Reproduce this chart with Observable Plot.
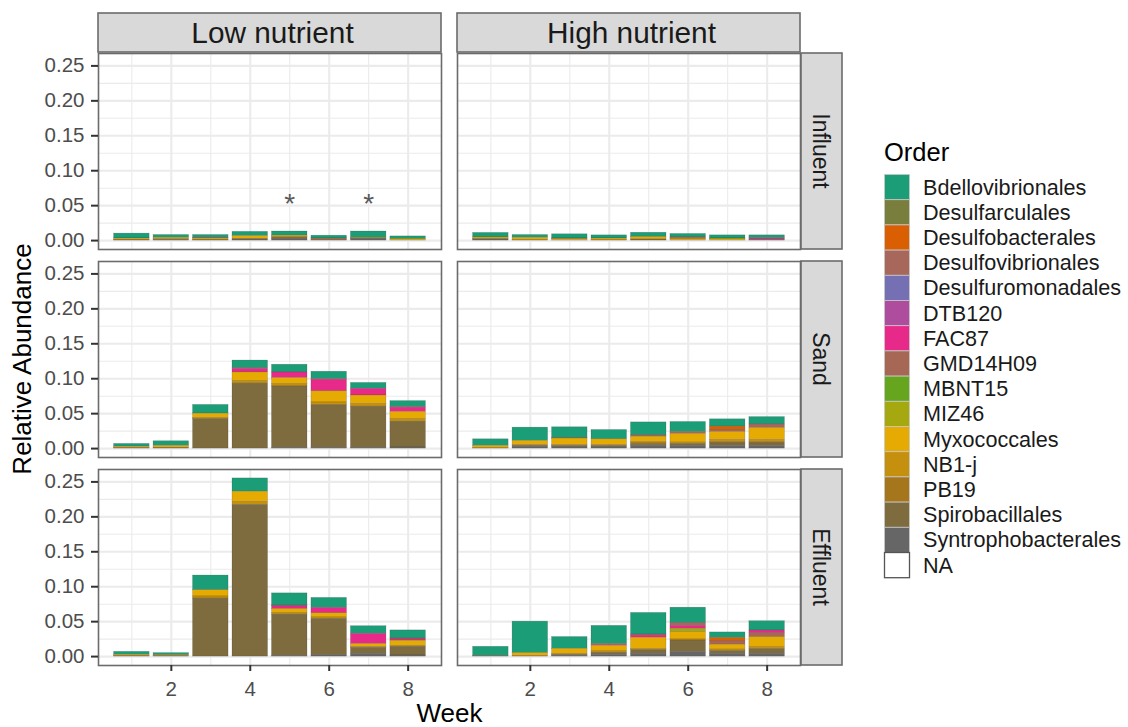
<!DOCTYPE html>
<html><head><meta charset="utf-8">
<script src="https://cdn.jsdelivr.net/npm/d3@7"></script>
<script src="https://cdn.jsdelivr.net/npm/@observablehq/plot@0.6"></script>
<style>
html,body{margin:0;padding:0;background:#fff;}
#wrap{position:relative;width:1128px;height:727px;overflow:hidden;font-family:"Liberation Sans",Arial,sans-serif;}
#wrap svg{position:absolute;}
</style></head><body><div id="wrap"></div>
<script>
// ---------- data ----------
const weeks = [1, 2, 3, 4, 5, 6, 7, 8];
const nutrients = ["Low nutrient", "High nutrient"];
const sites = ["Influent", "Sand", "Effluent"];
const orders = ["Bdellovibrionales","Desulfarculales","Desulfobacterales","Desulfovibrionales","Desulfuromonadales","DTB120","FAC87","GMD14H09","MBNT15","MIZ46","Myxococcales","NB1-j","PB19","Spirobacillales","Syntrophobacterales","NA"];
const orderColors = ["#1B9E77","#7A7E3C","#D95F02","#A7675A","#7570B3","#AE4C9E","#E7298A","#A66854","#66A61E","#A6A810","#E6AB02","#C6900F","#A6761D","#7E6C3E","#666666","#FFFFFF"];
const xTicks = [2, 4, 6, 8];
const xMinor = [1, 3, 5, 7];
const yTicks = [0, 0.05, 0.10, 0.15, 0.20, 0.25];
const yMinor = [0.025, 0.075, 0.125, 0.175, 0.225];
const asteriskWeeks = [5, 7];
const asteriskLevel = 0.052;

// relative abundance per order, weeks 1..8
const lowInfluent = {
  "Bdellovibrionales":   [0.007, 0.004, 0.004, 0.006, 0.006, 0.004, 0.009, 0.004],
  "Desulfobacterales":   [0, 0, 0, 0, 0, 0.001, 0, 0],
  "Desulfovibrionales":  [0, 0, 0.001, 0, 0, 0.001, 0, 0],
  "Myxococcales":        [0.002, 0.002, 0.002, 0.004, 0.002, 0, 0.001, 0.002],
  "NB1-j":               [0, 0.001, 0, 0.001, 0, 0, 0, 0],
  "PB19":                [0, 0, 0, 0, 0.002, 0, 0, 0],
  "Spirobacillales":     [0.001, 0.001, 0.001, 0, 0.001, 0.001, 0.001, 0],
  "Syntrophobacterales": [0, 0, 0, 0.0015, 0.002, 0, 0.002, 0]
};
const highInfluent = {
  "Bdellovibrionales":   [0.0065, 0.004, 0.006, 0.0045, 0.0062, 0.005, 0.0045, 0.004],
  "Desulfobacterales":   [0, 0, 0, 0, 0, 0.001, 0, 0],
  "Desulfovibrionales":  [0, 0, 0, 0, 0, 0.0015, 0, 0],
  "Desulfuromonadales":  [0, 0, 0.001, 0, 0, 0, 0, 0],
  "DTB120":              [0, 0, 0, 0, 0, 0, 0, 0.002],
  "GMD14H09":            [0, 0, 0, 0, 0, 0, 0, 0.0015],
  "MBNT15":              [0, 0, 0, 0, 0, 0, 0.001, 0],
  "Myxococcales":        [0.002, 0.003, 0.002, 0.002, 0.0035, 0.002, 0.002, 0],
  "NB1-j":               [0.001, 0.001, 0, 0.001, 0, 0, 0, 0],
  "Spirobacillales":     [0, 0, 0, 0, 0.0015, 0, 0, 0],
  "Syntrophobacterales": [0.0015, 0, 0, 0, 0, 0, 0, 0]
};
const lowSand = {
  "Bdellovibrionales":   [0.004, 0.0065, 0.0125, 0.011, 0.011, 0.0105, 0.0085, 0.0085],
  "Desulfovibrionales":  [0, 0, 0, 0.001, 0, 0.001, 0, 0.001],
  "FAC87":               [0, 0, 0, 0.005, 0.008, 0.0165, 0.0095, 0.006],
  "Myxococcales":        [0.002, 0.003, 0.006, 0.012, 0.009, 0.016, 0.012, 0.010],
  "NB1-j":               [0, 0, 0.002, 0.004, 0.003, 0.004, 0.004, 0.004],
  "Spirobacillales":     [0.0007, 0.001, 0.042, 0.093, 0.088, 0.061, 0.059, 0.037],
  "Syntrophobacterales": [0, 0, 0, 0, 0.001, 0.001, 0.001, 0.0015]
};
const highSand = {
  "Bdellovibrionales":   [0.0093, 0.019, 0.0157, 0.0133, 0.0185, 0.0143, 0.0105, 0.0105],
  "Desulfobacterales":   [0, 0, 0.0005, 0, 0, 0, 0.0052, 0],
  "Desulfovibrionales":  [0, 0, 0, 0, 0.002, 0, 0.0024, 0.0052],
  "GMD14H09":            [0, 0, 0, 0, 0, 0.0028, 0, 0],
  "Myxococcales":        [0.003, 0.006, 0.009, 0.008, 0.0075, 0.0124, 0.0114, 0.017],
  "NB1-j":               [0.001, 0.001, 0.0015, 0.0015, 0.002, 0.002, 0.003, 0.003],
  "PB19":                [0, 0, 0, 0, 0.002, 0, 0.002, 0.002],
  "Spirobacillales":     [0, 0.002, 0.002, 0.002, 0.002, 0.0028, 0.0036, 0.0036],
  "Syntrophobacterales": [0, 0.002, 0.0018, 0.0018, 0.0035, 0.0038, 0.0038, 0.0038]
};
const lowEffluent = {
  "Bdellovibrionales":   [0.0043, 0.003, 0.021, 0.019, 0.0175, 0.0145, 0.011, 0.0115],
  "Desulfovibrionales":  [0, 0, 0, 0, 0.001, 0, 0, 0.0015],
  "FAC87":               [0, 0, 0, 0, 0.004, 0.0075, 0.0145, 0.002],
  "Myxococcales":        [0.002, 0.0015, 0.009, 0.015, 0.006, 0.006, 0.004, 0.007],
  "NB1-j":               [0, 0, 0.003, 0.004, 0.002, 0.002, 0.0015, 0.0015],
  "Spirobacillales":     [0.0005, 0.0005, 0.083, 0.217, 0.059, 0.052, 0.0085, 0.0125],
  "Syntrophobacterales": [0, 0, 0, 0, 0.001, 0.002, 0.004, 0.0015]
};
const highEffluent = {
  "Bdellovibrionales":   [0.013, 0.045, 0.017, 0.026, 0.031, 0.0222, 0.008, 0.0133],
  "Desulfobacterales":   [0, 0, 0, 0, 0, 0, 0.0048, 0],
  "Desulfovibrionales":  [0, 0, 0, 0.0015, 0.0015, 0.004, 0.0048, 0],
  "FAC87":               [0, 0, 0, 0.001, 0.003, 0.004, 0, 0.0038],
  "GMD14H09":            [0, 0, 0, 0, 0, 0, 0, 0.0057],
  "MIZ46":               [0, 0, 0, 0, 0, 0.0048, 0, 0],
  "Myxococcales":        [0, 0.004, 0.007, 0.008, 0.016, 0.0105, 0.007, 0.0143],
  "NB1-j":               [0, 0.001, 0.0015, 0.002, 0.002, 0.0015, 0.002, 0.003],
  "Spirobacillales":     [0.001, 0, 0.0015, 0.003, 0.005, 0.0165, 0.004, 0.0065],
  "Syntrophobacterales": [0, 0, 0.001, 0.0025, 0.004, 0.0065, 0.004, 0.004]
};

// ---------- tidy table ----------
const panels = [
  ["Low nutrient", "Influent", lowInfluent], ["High nutrient", "Influent", highInfluent],
  ["Low nutrient", "Sand", lowSand], ["High nutrient", "Sand", highSand],
  ["Low nutrient", "Effluent", lowEffluent], ["High nutrient", "Effluent", highEffluent]
];
const table = panels.flatMap(([nutrient, site, vals]) =>
  Object.entries(vals).flatMap(([order, v]) =>
    v.map((value, i) => ({nutrient, site, week: weeks[i], order, value})).filter(d => d.value > 0)));
const asterisks = asteriskWeeks.map(week => ({nutrient: "Low nutrient", site: "Influent", week, value: asteriskLevel}));

const totals = d3.rollups(table, v => d3.sum(v, d => d.value), d => d.nutrient, d => d.site, d => d.week)
  .flatMap(a => a[1].flatMap(b => b[1].map(c => c[1])));
const yMax = d3.max(totals);
const yPad = yMax * 0.05;
const stackOrder = orders.slice().reverse();

// ---------- layout ----------
const W = 860, H = 727, mL = 98, mR = 59, mT = 52, mB = 61;
const stripH = 39, stripW = 41;
const FONT = "'Liberation Sans', Arial, Helvetica, sans-serif";

const chart = Plot.plot({
  width: W, height: H,
  marginLeft: mL, marginRight: mR, marginTop: mT, marginBottom: mB,
  style: {fontFamily: FONT, background: "transparent", overflow: "visible"},
  fx: {domain: nutrients, paddingInner: 0.0445, paddingOuter: 0, axis: null, label: null},
  fy: {domain: sites, paddingInner: 0.06, paddingOuter: 0, axis: null, label: null},
  x: {type: "band", domain: weeks, paddingInner: 0.1, paddingOuter: 0.395, round: false, label: null},
  y: {domain: [-yPad, yMax + yPad], label: null},
  color: {domain: orders, range: orderColors},
  marks: [
    Plot.gridX(xMinor, {stroke: "#EBEBEB", strokeOpacity: 1, strokeWidth: 1.1}),
    Plot.gridY(yMinor, {stroke: "#EBEBEB", strokeOpacity: 1, strokeWidth: 1.1}),
    Plot.gridX(xTicks, {stroke: "#EBEBEB", strokeOpacity: 1, strokeWidth: 2.1}),
    Plot.gridY(yTicks, {stroke: "#EBEBEB", strokeOpacity: 1, strokeWidth: 2.1}),
    Plot.barY(table, {x: "week", y: "value", fill: "order", fx: "nutrient", fy: "site",
      order: stackOrder, stroke: "#333", strokeWidth: 0.5, strokeOpacity: 0.35}),
    Plot.text(asterisks, {x: "week", y: "value", fx: "nutrient", fy: "site", text: () => "*",
      fontSize: 28, fill: "#595959"}),
    Plot.frame({stroke: "#6b6b6b", strokeWidth: 1.6}),
    Plot.axisY(yTicks, {tickFormat: d3.format(".2f"), tickSize: 7, tickPadding: 7, fontSize: 20.5,
      fill: "#4D4D4D", stroke: "#333", strokeWidth: 2, label: null}),
    Plot.axisX(xTicks, {tickSize: 6, tickPadding: 10, fontSize: 20.5,
      fill: "#4D4D4D", stroke: "#333", strokeWidth: 2, label: null})
  ]
});
chart.style.left = "0px"; chart.style.top = "0px";
document.getElementById("wrap").appendChild(chart);

// ---------- facet strips & axis titles ----------
const svg = d3.select(chart);
let fxS, fyS;
try { fxS = chart.scale("fx"); fyS = chart.scale("fy"); } catch (e) {}
const fxPos = v => fxS && fxS.apply ? fxS.apply(v) : d3.scaleBand(nutrients, [mL, W - mR]).paddingInner(0.0445)(v);
const fyPos = v => fyS && fyS.apply ? fyS.apply(v) : d3.scaleBand(sites, [mT, H - mB]).paddingInner(0.06)(v);
const fxBw = fxS && fxS.bandwidth ? fxS.bandwidth : d3.scaleBand(nutrients, [mL, W - mR]).paddingInner(0.0445).bandwidth();
const fyBw = fyS && fyS.bandwidth ? fyS.bandwidth : d3.scaleBand(sites, [mT, H - mB]).paddingInner(0.06).bandwidth();

const strips = svg.append("g").attr("font-family", FONT);
nutrients.forEach(n => {
  const x0 = fxPos(n);
  strips.append("rect").attr("x", x0).attr("y", mT - stripH).attr("width", fxBw).attr("height", stripH)
    .attr("fill", "#D9D9D9").attr("stroke", "#6b6b6b").attr("stroke-width", 1.6);
  strips.append("text").attr("x", x0 + fxBw / 2 + 3).attr("y", mT - stripH / 2).attr("dy", "0.35em")
    .attr("text-anchor", "middle").attr("font-size", 29.8).attr("fill", "#1A1A1A").text(n);
});
sites.forEach(s => {
  const y0 = fyPos(s), x0 = W - mR;
  strips.append("rect").attr("x", x0).attr("y", y0).attr("width", stripW).attr("height", fyBw)
    .attr("fill", "#D9D9D9").attr("stroke", "#6b6b6b").attr("stroke-width", 1.6);
  strips.append("text").attr("transform", `translate(${x0 + stripW / 2},${y0 + fyBw / 2}) rotate(90)`)
    .attr("dy", "0.35em").attr("text-anchor", "middle").attr("font-size", 23).attr("fill", "#1A1A1A").text(s);
});
svg.append("text").attr("x", (mL + W - mR) / 2).attr("y", 722).attr("text-anchor", "middle")
  .attr("font-family", FONT).attr("font-size", 26).attr("fill", "#000").text("Week");
svg.append("text").attr("transform", `translate(31,${(mT + H - mB) / 2}) rotate(-90)`).attr("text-anchor", "middle")
  .attr("font-family", FONT).attr("font-size", 26).attr("fill", "#000").text("Relative Abundance");

// ---------- legend ----------
const color = d3.scaleOrdinal(orders, orderColors);
const leg = d3.select("#wrap").append("svg").attr("width", 258).attr("height", 460)
  .style("left", "870px").style("top", "130px").attr("font-family", FONT);
leg.append("text").attr("x", 14).attr("y", 31).attr("font-size", 25.5).attr("fill", "#000").text("Order");
const keyH = 25.2;
orders.forEach((o, i) => {
  const y = 44.5 + i * keyH;
  leg.append("rect").attr("x", 14.5).attr("y", y).attr("width", 25).attr("height", keyH)
    .attr("fill", color(o)).attr("stroke", o === "NA" ? "#555" : "#c8c8c8").attr("stroke-width", o === "NA" ? 1.3 : 0.8);
  leg.append("text").attr("x", 53).attr("y", y + keyH / 2).attr("dy", "0.35em")
    .attr("font-size", 21.6).attr("fill", "#1A1A1A").text(o);
});
</script></body></html>
